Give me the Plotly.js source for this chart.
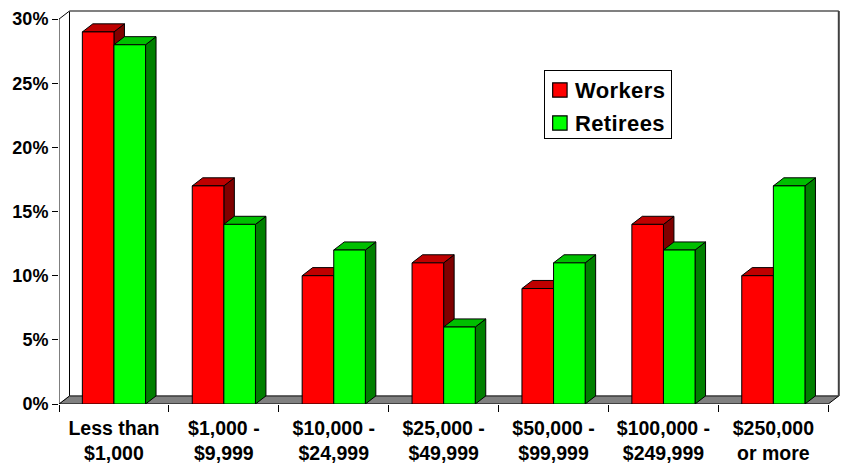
<!DOCTYPE html>
<html>
<head>
<meta charset="utf-8">
<script src="https://cdn.plot.ly/plotly-3.0.1.min.js"></script>
<style>html,body{margin:0;padding:0;background:#fff}</style>
</head>
<body>
<div id="chart" style="width:843px;height:470px"></div>
<script>
const categories = ["Less than<br>$1,000","$1,000 -<br>$9,999","$10,000 -<br>$24,999","$25,000 -<br>$49,999","$50,000 -<br>$99,999","$100,000 -<br>$249,999","$250,000<br>or more"];
const workers  = [29,17,10,11,9,14,10];
const retirees = [28,14,12,6,11,12,17];
const yTicks = [0,5,10,15,20,25,30];
const yLabels = ["0%","5%","10%","15%","20%","25%","30%"];

const depthX = 0.0955, depthY = 0.63, barW = 0.2875;
const faces = [
  {vals: workers,  front: "#ff0000", top: "#bf0000", side: "#800000", off: -barW},
  {vals: retirees, front: "#00ff00", top: "#00bf00", side: "#008000", off: 0}
];
const poly = pts => "M" + pts.map(p => p[0] + " " + p[1]).join(" L") + " Z";
const shape = (pts, fill, lineColor, w) => ({type:"path", xref:"x", yref:"y", layer:"below", path:poly(pts), fillcolor:fill, line:{color:lineColor, width:w}});

const x0 = -0.5, x1 = 6.5;
const shapes = [
  shape([[x0+depthX,depthY],[x0+depthX,30+depthY],[x1+depthX,30+depthY],[x1+depthX,depthY]], "#ffffff", "rgba(0,0,0,0)", 0),
  shape([[x0,0],[x0+depthX,depthY],[x1+depthX,depthY],[x1,0]], "#808080", "#000000", 1),
  shape([[x0,0],[x0,30],[x0+depthX,30+depthY],[x0+depthX,depthY]], "#ffffff", "#000000", 1),
  {type:"line", xref:"x", yref:"y", layer:"below", x0:x0+depthX, x1:x1+depthX, y0:30+depthY, y1:30+depthY, line:{color:"#808080", width:2}},
  {type:"line", xref:"x", yref:"y", layer:"below", x0:x1+depthX, x1:x1+depthX, y0:depthY, y1:30+depthY, line:{color:"#404040", width:2}}
];
categories.forEach((c,i) => {
  faces.forEach(f => {
    const v = f.vals[i], l = i + f.off, r = l + barW;
    shapes.push(shape([[r,0],[r+depthX,depthY],[r+depthX,v+depthY],[r,v]], f.side, "#000000", 1));
    shapes.push(shape([[l,v],[l+depthX,v+depthY],[r+depthX,v+depthY],[r,v]], f.top, "#000000", 1));
  });
});

const family = "'Liberation Sans', Arial, sans-serif";
const data = [
  {type:"bar", name:"Workers", x:categories, y:workers, marker:{color:"#ff0000", line:{color:"#000000", width:1}}},
  {type:"bar", name:"Retirees", x:categories, y:retirees, marker:{color:"#00ff00", line:{color:"#000000", width:1}}}
];
const layout = {
  width:843, height:470,
  margin:{l:59, r:1.8, t:9, b:66, pad:0},
  paper_bgcolor:"#ffffff", plot_bgcolor:"#ffffff",
  barmode:"group", bargap:0.425, bargroupgap:0,
  showlegend:true,
  legend:{x:(544-59)/782.2, xanchor:"left", y:(404-70)/395, yanchor:"top", bgcolor:"#ffffff", bordercolor:"#000000", borderwidth:1, itemclick:false, itemdoubleclick:false, traceorder:"normal",
    font:{family, size:22, color:"#000000", weight:700}},
  xaxis:{type:"category", categoryorder:"array", categoryarray:categories, range:[x0, x1+depthX+0.02], tickson:"boundaries", ticks:"outside", ticklen:7, tickcolor:"#000000", tickwidth:1, showgrid:false, showline:false, zeroline:false, tickangle:0, automargin:false, ticklabelstandoff:10,
    tickfont:{family, size:19.5, color:"#000000", weight:700}},
  yaxis:{range:[0,30.786], tickmode:"array", tickvals:yTicks, ticktext:yLabels, ticks:"outside", ticklen:6, tickcolor:"#000000", tickwidth:1, showgrid:false, showline:false, zeroline:false, automargin:false,
    tickfont:{family, size:18, color:"#000000", weight:700}},
  shapes
};
Plotly.newPlot("chart", data, layout, {displayModeBar:false}).then(() => {
  // fine-tune native legend box to the reference's spacing
  const leg = document.querySelector(".legend");
  const W = 127, H = 68;
  leg.querySelectorAll("rect.bg").forEach(r => { r.setAttribute("width", W); r.setAttribute("height", H); });
  document.querySelectorAll("clipPath[id*='legend'] rect").forEach(r => { r.setAttribute("width", W); r.setAttribute("height", H); });
  [19, 52].forEach((y, i) => {
    const t = leg.querySelectorAll(".traces")[i];
    t.setAttribute("transform", "translate(1," + y + ")");
    const txt = t.querySelector(".legendtext");
    txt.setAttribute("x", 30);
    txt.style.letterSpacing = "0.4px";
    t.querySelectorAll(".legendpoints path").forEach(p => p.setAttribute("transform", "translate(15,1) scale(1.2)"));
  });
});
</script>
</body>
</html>
